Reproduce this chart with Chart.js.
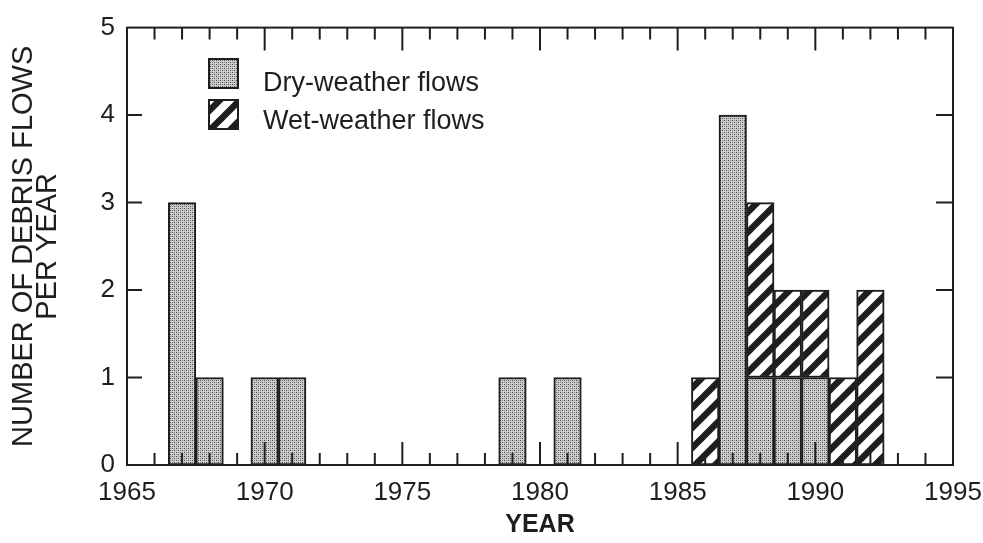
<!DOCTYPE html>
<html>
<head>
<meta charset="utf-8">
<title>Debris flows per year</title>
<script src="https://cdn.jsdelivr.net/npm/chart.js@4.4.1/dist/chart.umd.min.js"></script>
<style>
  html, body { margin: 0; padding: 0; background: #fff; }
  #wrap { width: 983px; height: 543px; }
</style>
</head>
<body>
<div id="wrap"><canvas id="debrisChart" width="983" height="543"></canvas></div>
<script>
// data
const dryYears  = [1967, 1968, 1970, 1971, 1979, 1981, 1987, 1988, 1989, 1990];
const dryCounts = [3, 1, 1, 1, 1, 1, 4, 1, 1, 1];
const wetYears  = [1986, 1988, 1989, 1990, 1991, 1992];
const wetCounts = [1, 2, 1, 1, 1, 2];

const yearMin = 1965;
const yearMax = 1995;
const countTicks = [0, 1, 2, 3, 4, 5];

const legendLabels = ['Dry-weather flows', 'Wet-weather flows'];

const ink = '#1e1e1e';
const fontFamily = "'Liberation Sans', Arial, sans-serif";

// stippled fill for dry-weather bars
const makeStipple = () => {
  const c = document.createElement('canvas');
  c.width = 4; c.height = 4;
  const g = c.getContext('2d');
  g.fillStyle = '#cdcdcd';
  g.fillRect(0, 0, 4, 4);
  g.fillStyle = '#444';
  g.fillRect(0, 0, 1, 1);
  g.fillRect(2, 2, 1, 1);
  g.fillStyle = '#8a8a8a';
  g.fillRect(2, 0, 1, 1);
  g.fillRect(0, 2, 1, 1);
  return g.createPattern(c, 'repeat');
};

// diagonal hatch for wet-weather bars
const makeHatch = () => {
  const s = 20;
  const c = document.createElement('canvas');
  c.width = s; c.height = s;
  const g = c.getContext('2d');
  g.fillStyle = '#fff';
  g.fillRect(0, 0, s, s);
  g.strokeStyle = ink;
  g.lineWidth = 6.5;
  g.beginPath();
  g.moveTo(-s / 2, s / 2); g.lineTo(s / 2, -s / 2);
  g.moveTo(0, s); g.lineTo(s, 0);
  g.moveTo(s / 2, s * 1.5); g.lineTo(s * 1.5, s / 2);
  g.stroke();
  return g.createPattern(c, 'repeat');
};

const stipple = makeStipple();
const hatch = makeHatch();

// frame with inward ticks + legend inside the plot
const framePlugin = {
  id: 'frame',
  afterDatasetsDraw(chart) {
    const { ctx, chartArea: a, scales: { x, y } } = chart;
    ctx.save();
    ctx.strokeStyle = ink;
    ctx.lineWidth = 2;
    ctx.strokeRect(a.left, a.top, a.right - a.left, a.bottom - a.top);

    ctx.beginPath();
    for (let yr = yearMin + 1; yr < yearMax; yr++) {
      const px = x.getPixelForValue(yr);
      const len = yr % 5 === 0 ? 23 : 12;
      ctx.moveTo(px, a.bottom);
      ctx.lineTo(px, a.bottom - len);
      ctx.moveTo(px, a.top);
      ctx.lineTo(px, a.top + len);
    }
    countTicks.slice(1, -1).forEach(v => {
      const py = y.getPixelForValue(v);
      ctx.moveTo(a.left, py);
      ctx.lineTo(a.left + 15, py);
      ctx.moveTo(a.right, py);
      ctx.lineTo(a.right - 17, py);
    });
    ctx.stroke();

    // legend
    const fills = [stipple, hatch];
    const boxTops = [58, 99];
    const baselines = [91, 129];
    ctx.font = '27px ' + fontFamily;
    ctx.textBaseline = 'alphabetic';
    legendLabels.forEach((label, i) => {
      ctx.fillStyle = fills[i];
      ctx.fillRect(208, boxTops[i], 31, 31);
      ctx.strokeRect(209, boxTops[i] + 1, 29, 29);
      ctx.fillStyle = ink;
      ctx.fillText(label, 263, baselines[i]);
    });
    ctx.restore();
  }
};

const ctx = document.getElementById('debrisChart');

new Chart(ctx, {
  type: 'bar',
  data: {
    datasets: [
      {
        label: legendLabels[0],
        data: dryYears.map((yr, i) => ({ x: yr, y: dryCounts[i] })),
        backgroundColor: stipple,
        borderColor: ink,
        borderWidth: 2,
        borderSkipped: false,
        barPercentage: 1,
        categoryPercentage: 1,
      },
      {
        label: legendLabels[1],
        data: wetYears.map((yr, i) => ({ x: yr, y: wetCounts[i] })),
        backgroundColor: hatch,
        borderColor: ink,
        borderWidth: 2,
        borderSkipped: false,
        barPercentage: 1,
        categoryPercentage: 1,
      }
    ]
  },
  options: {
    responsive: false,
    animation: false,
    devicePixelRatio: 1,
    layout: {
      padding: { left: 0, right: 30, top: 16, bottom: 0 }
    },
    plugins: {
      legend: { display: false },
      tooltip: { enabled: false }
    },
    scales: {
      x: {
        type: 'linear',
        stacked: true,
        offset: false,
        min: yearMin,
        max: yearMax,
        grid: { display: false, drawTicks: false, offset: false },
        border: { display: false },
        ticks: {
          stepSize: 5,
          autoSkip: false,
          maxRotation: 0,
          padding: 12,
          color: ink,
          font: { family: fontFamily, size: 26 },
          callback: v => String(v)
        },
        title: {
          display: true,
          text: 'YEAR',
          color: ink,
          padding: { top: 0, bottom: 3 },
          font: { family: fontFamily, size: 25, weight: 'bold' }
        },
        afterFit: s => {
          s.height = 78;
          s.paddingLeft = 0;
          s.paddingRight = 0;
        }
      },
      y: {
        stacked: true,
        min: countTicks[0],
        max: countTicks[countTicks.length - 1],
        grid: { display: false, drawTicks: false },
        border: { display: false },
        ticks: {
          stepSize: 1,
          padding: 12,
          color: ink,
          font: { family: fontFamily, size: 26 }
        },
        title: {
          display: true,
          text: ['NUMBER OF DEBRIS FLOWS', 'PER YEAR'],
          color: ink,
          padding: { top: 12, bottom: 0 },
          font: { family: fontFamily, size: 29, lineHeight: 0.82 }
        },
        afterFit: s => { s.width = 127; }
      }
    }
  },
  plugins: [framePlugin]
});
</script>
</body>
</html>
